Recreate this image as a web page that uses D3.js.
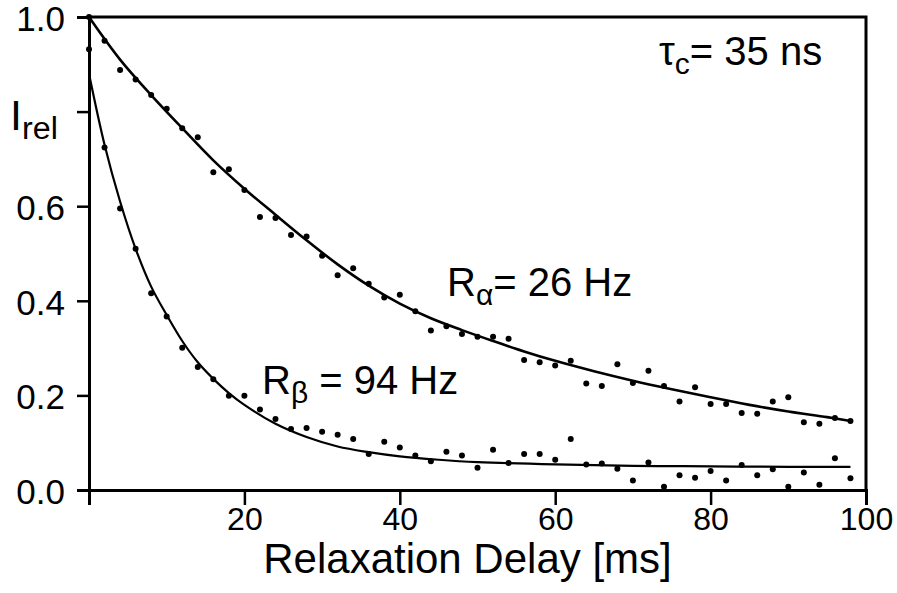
<!DOCTYPE html>
<html>
<head>
<meta charset="utf-8">
<script src="https://d3js.org/d3.v7.min.js"></script>
<style>
  body { margin: 0; background: #fff; }
  svg { font-family: "Liberation Sans", Arial, sans-serif; }
  text { fill: #000; }
</style>
</head>
<body>
<script>

// relaxation delays (ms), one point every 2 ms
var delays = d3.range(0, 100, 2);

// measured intensities, alpha line
var alphaPoints = [1.0, 0.95, 0.888, 0.868, 0.835, 0.806, 0.765, 0.746, 0.672, 0.678,
  0.634, 0.577, 0.575, 0.539, 0.536, 0.495, 0.454, 0.469, 0.436, 0.407,
  0.413, 0.378, 0.337, 0.346, 0.33, 0.324, 0.324, 0.32, 0.275, 0.27,
  0.263, 0.273, 0.225, 0.22, 0.266, 0.226, 0.252, 0.22, 0.187, 0.217,
  0.182, 0.182, 0.163, 0.161, 0.187, 0.196, 0.143, 0.14, 0.152, 0.146];

// measured intensities, beta line
var betaPoints = [0.932, 0.724, 0.595, 0.51, 0.416, 0.367, 0.301, 0.26, 0.234, 0.199,
  0.199, 0.17, 0.15, 0.129, 0.131, 0.123, 0.117, 0.108, 0.076, 0.102,
  0.09, 0.073, 0.061, 0.081, 0.073, 0.047, 0.085, 0.057, 0.076, 0.076,
  0.064, 0.108, 0.054, 0.056, 0.045, 0.02, 0.058, 0.007, 0.031, 0.026,
  0.04, 0.02, 0.053, 0.031, 0.044, 0.007, 0.037, 0.011, 0.067, 0.025];

// fitted curves
var alphaFitT = [0, 4, 8, 12, 16, 20, 24, 28, 32, 36, 40, 44, 48, 52, 56, 60, 65, 70, 75, 80, 85, 90, 95, 98];
var alphaFitV = [1.0, 0.91, 0.835, 0.765, 0.697, 0.637, 0.582, 0.528, 0.477, 0.432, 0.394, 0.363, 0.338, 0.315, 0.293, 0.273, 0.251, 0.231, 0.213, 0.196, 0.18, 0.166, 0.154, 0.146];

var betaFitT = [0, 2, 4, 6, 8, 10, 12, 14, 16, 18, 20, 24, 28, 32, 36, 40, 45, 50, 60, 70, 80, 90, 98];
var betaFitV = [0.88, 0.73, 0.61, 0.51, 0.43, 0.37, 0.315, 0.27, 0.235, 0.205, 0.18, 0.14, 0.112, 0.092, 0.08, 0.071, 0.064, 0.059, 0.054, 0.051, 0.05, 0.049, 0.049];

// tick values
var xTicks = [0, 20, 40, 60, 80, 100];
var yTicks = [0, 0.2, 0.4, 0.6, 0.8, 1.0];

var w = 897,
    h = 593,
    margin = {top: 17, right: 31, bottom: 103, left: 89};

var svg = d3.select("body")
  .append("svg")
  .attr("width", w)
  .attr("height", h);

var x_scale = d3.scaleLinear()
  .domain([0, 100])
  .range([margin.left, w - margin.right]);

var y_scale = d3.scaleLinear()
  .domain([0, 1])
  .range([h - margin.bottom, margin.top]);

// frame on top and right
svg.append("path")
  .attr("d", "M" + x_scale(0) + "," + y_scale(1) + "H" + x_scale(100) + "V" + y_scale(0))
  .attr("fill", "none")
  .attr("stroke", "#000")
  .attr("stroke-width", 3);

// axes
var xAxis = d3.axisBottom(x_scale)
  .tickValues(xTicks)
  .tickSize(15)
  .tickPadding(2)
  .tickFormat(function(d) { return d == 0 ? "" : d; });

var yAxis = d3.axisLeft(y_scale)
  .tickValues(yTicks)
  .tickSize(12)
  .tickPadding(12)
  .tickFormat(function(d) { return d == 0.8 ? "" : d3.format(".1f")(d); });

var gX = svg.append("g")
  .attr("transform", "translate(0," + y_scale(0) + ")")
  .call(xAxis);

var gY = svg.append("g")
  .attr("transform", "translate(" + x_scale(0) + ",0)")
  .call(yAxis);

[gX, gY].forEach(function(g) {
  g.select(".domain").attr("stroke-width", 3);
  g.selectAll(".tick line").attr("stroke-width", 2.5);
  g.selectAll(".tick text")
    .attr("font-family", "Liberation Sans, Arial, sans-serif")
    .attr("fill", "#000");
});
gX.selectAll(".tick text").attr("font-size", 32);
gY.selectAll(".tick text").attr("font-size", 35).attr("dy", "0.38em");

// fitted lines
var line = d3.line()
  .x(function(d) { return x_scale(d[0]); })
  .y(function(d) { return y_scale(d[1]); })
  .curve(d3.curveCatmullRom);

svg.append("path")
  .datum(d3.zip(alphaFitT, alphaFitV))
  .attr("d", line)
  .attr("fill", "none")
  .attr("stroke", "#000")
  .attr("stroke-width", 2.6);

svg.append("path")
  .datum(d3.zip(betaFitT, betaFitV))
  .attr("d", line)
  .attr("fill", "none")
  .attr("stroke", "#000")
  .attr("stroke-width", 2.2);

// data points
function make_dots(values) {
  svg.append("g")
    .selectAll("circle")
    .data(d3.zip(delays, values))
    .enter()
    .append("circle")
    .attr("cx", function(d) { return x_scale(d[0]); })
    .attr("cy", function(d) { return y_scale(d[1]); })
    .attr("r", 3)
    .attr("fill", "#000");
}
make_dots(alphaPoints);
make_dots(betaPoints);

// labels with subscripts
function label(x, y, main, sub, rest, size) {
  var t = svg.append("text")
    .attr("x", x)
    .attr("y", y)
    .attr("font-size", size);
  t.append("tspan").text(main);
  t.append("tspan")
    .attr("font-size", size * 0.75)
    .attr("dy", size * 0.22)
    .text(sub);
  if (rest) {
    t.append("tspan")
      .attr("dy", -size * 0.22)
      .text(rest);
  }
}

label(659, 65, "\u03c4", "c", "= 35 ns", 40);
label(447, 296, "R", "\u03b1", "= 26 Hz", 40);
label(262, 394, "R", "\u03b2", " = 94 Hz", 40);
label(10, 130, "I", "rel", null, 43);

// x-axis title
svg.append("text")
  .attr("x", x_scale(0) + (x_scale(100) - x_scale(0)) / 2 - 10)
  .attr("y", 573)
  .attr("text-anchor", "middle")
  .attr("font-size", 42)
  .text("Relaxation Delay [ms]");

</script>
</body>
</html>
